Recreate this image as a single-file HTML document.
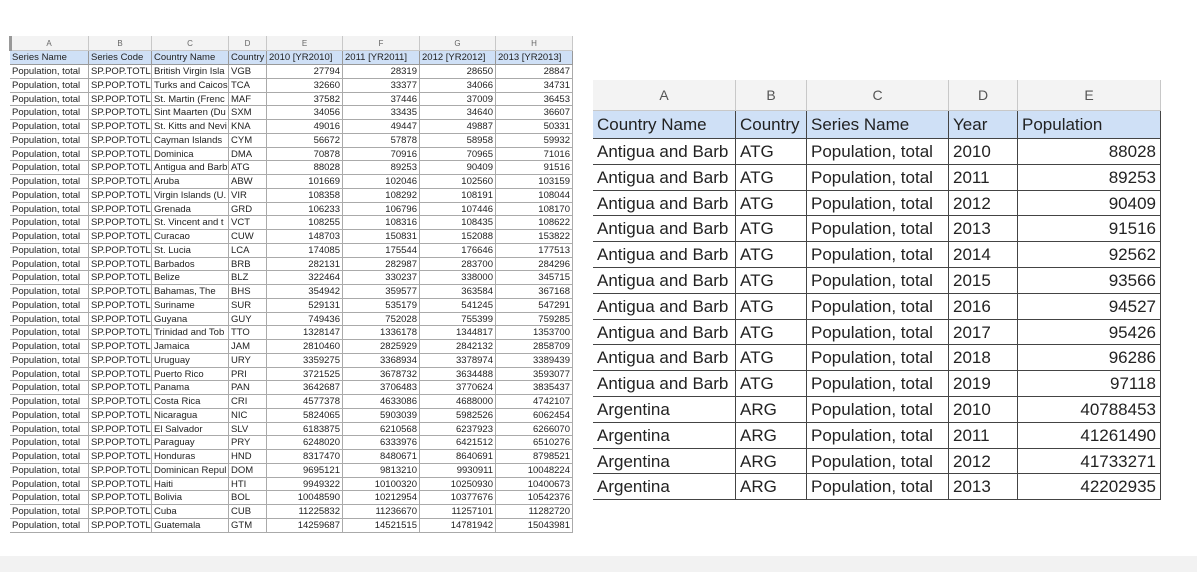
<!DOCTYPE html>
<html><head><meta charset="utf-8">
<style>
body{margin:0;width:1197px;height:572px;background:#fff;position:relative;overflow:hidden;font-family:"Liberation Sans",sans-serif;}
.c{position:absolute;box-sizing:border-box;white-space:nowrap;overflow:hidden;color:#222;}
#bottom{position:absolute;left:0;top:556px;width:1197px;height:16px;background:#f2f2f2;}
</style></head>
<body>
<div id="left"></div>
<div id="right"></div>
<div id="bottom"></div>
<script>
const leftHeaders=["Series Name","Series Code","Country Name","Country","2010 [YR2010]","2011 [YR2011]","2012 [YR2012]","2013 [YR2013]"];
const leftNames=["British Virgin Isla","Turks and Caicos","St. Martin (Frenc","Sint Maarten (Du","St. Kitts and Nevi","Cayman Islands","Dominica","Antigua and Barb","Aruba","Virgin Islands (U.","Grenada","St. Vincent and t","Curacao","St. Lucia","Barbados","Belize","Bahamas, The","Suriname","Guyana","Trinidad and Tob","Jamaica","Uruguay","Puerto Rico","Panama","Costa Rica","Nicaragua","El Salvador","Paraguay","Honduras","Dominican Repul","Haiti","Bolivia","Cuba","Guatemala"];
const leftCodes=["VGB","TCA","MAF","SXM","KNA","CYM","DMA","ATG","ABW","VIR","GRD","VCT","CUW","LCA","BRB","BLZ","BHS","SUR","GUY","TTO","JAM","URY","PRI","PAN","CRI","NIC","SLV","PRY","HND","DOM","HTI","BOL","CUB","GTM"];
const y2010=[27794,32660,37582,34056,49016,56672,70878,88028,101669,108358,106233,108255,148703,174085,282131,322464,354942,529131,749436,1328147,2810460,3359275,3721525,3642687,4577378,5824065,6183875,6248020,8317470,9695121,9949322,10048590,11225832,14259687];
const y2011=[28319,33377,37446,33435,49447,57878,70916,89253,102046,108292,106796,108316,150831,175544,282987,330237,359577,535179,752028,1336178,2825929,3368934,3678732,3706483,4633086,5903039,6210568,6333976,8480671,9813210,10100320,10212954,11236670,14521515];
const y2012=[28650,34066,37009,34640,49887,58958,70965,90409,102560,108191,107446,108435,152088,176646,283700,338000,363584,541245,755399,1344817,2842132,3378974,3634488,3770624,4688000,5982526,6237923,6421512,8640691,9930911,10250930,10377676,11257101,14781942];
const y2013=[28847,34731,36453,36607,50331,59932,71016,91516,103159,108044,108170,108622,153822,177513,284296,345715,367168,547291,759285,1353700,2858709,3389439,3593077,3835437,4742107,6062454,6266070,6510276,8798521,10048224,10400673,10542376,11282720,15043981];

const rightHeaders=["Country Name","Country","Series Name","Year","Population"];
const rightCountries=["Antigua and Barb","Antigua and Barb","Antigua and Barb","Antigua and Barb","Antigua and Barb","Antigua and Barb","Antigua and Barb","Antigua and Barb","Antigua and Barb","Antigua and Barb","Argentina","Argentina","Argentina","Argentina"];
const rightCodes=["ATG","ATG","ATG","ATG","ATG","ATG","ATG","ATG","ATG","ATG","ARG","ARG","ARG","ARG"];
const rightYears=[2010,2011,2012,2013,2014,2015,2016,2017,2018,2019,2010,2011,2012,2013];
const rightPop=[88028,89253,90409,91516,92562,93566,94527,95426,96286,97118,40788453,41261490,41733271,42202935];

function cell(parent,x,y,w,h,text,o){
  const d=document.createElement('div');
  d.className='c';
  
  
  d.style.cssText=`left:${x}px;top:${y}px;width:${w}px;height:${h}px;line-height:${h}px;font-size:${o.fs}px;border-right:1px solid ${o.bc};border-bottom:1px solid ${o.bc};padding:0 ${o.pad}px;text-align:${o.align||'left'};background:${o.bg||'transparent'};color:${o.color||'#222'};`;
  d.textContent=text;
  parent.appendChild(d);
}
// Left sheet
const L=document.getElementById('left');
const lx=[10,89,152,229,267,343,420,496,573];
const letters="ABCDEFGH";
for(let i=0;i<8;i++){
  cell(L,lx[i],36,lx[i+1]-lx[i],15,letters[i],{name:'column-letter-'+letters[i].toLowerCase(),fs:8,bc:'#c8c8c8',pad:1,align:'center',bg:'#f3f3f3',color:'#666'});
  cell(L,lx[i],51,lx[i+1]-lx[i],14,leftHeaders[i],{name:'left-header-cell',fs:9.5,bc:'#999',pad:2,bg:'#cfe0f6'});
}
const rh=13.75;
for(let r=0;r<leftNames.length;r++){
  const y=65+r*rh;
  const vals=["Population, total","SP.POP.TOTL",leftNames[r],leftCodes[r],y2010[r],y2011[r],y2012[r],y2013[r]];
  for(let i=0;i<8;i++){
    cell(L,lx[i],y,lx[i+1]-lx[i],rh,String(vals[i]),{name:'left-data-cell',fs:9.5,bc:'#aaa',pad:2,align:i>=4?'right':'left'});
  }
}
const bar=document.createElement('div');


bar.style.cssText='position:absolute;left:9px;top:36px;width:3px;height:15px;background:#999;';
L.appendChild(bar);
// Right sheet
const R=document.getElementById('right');
const rx=[593,736,807,949,1018,1161];
for(let i=0;i<5;i++){
  cell(R,rx[i],80,rx[i+1]-rx[i],31,letters[i],{name:'right-column-letter-'+letters[i].toLowerCase(),fs:14,bc:'#c8c8c8',pad:2,align:'center',bg:'#f3f3f3',color:'#555'});
  cell(R,rx[i],111,rx[i+1]-rx[i],28,rightHeaders[i],{name:'right-header-cell',fs:17,bc:'#444',pad:4,bg:'#cfe0f6'});
}
const rr=25.8;
for(let r=0;r<rightCountries.length;r++){
  const y=139+r*rr;
  const vals=[rightCountries[r],rightCodes[r],"Population, total",rightYears[r],rightPop[r]];
  for(let i=0;i<5;i++){
    cell(R,rx[i],y,rx[i+1]-rx[i],rr,String(vals[i]),{name:'right-data-cell',fs:17,bc:'#444',pad:4,align:i==4?'right':'left'});
  }
}
</script>
</body></html>
